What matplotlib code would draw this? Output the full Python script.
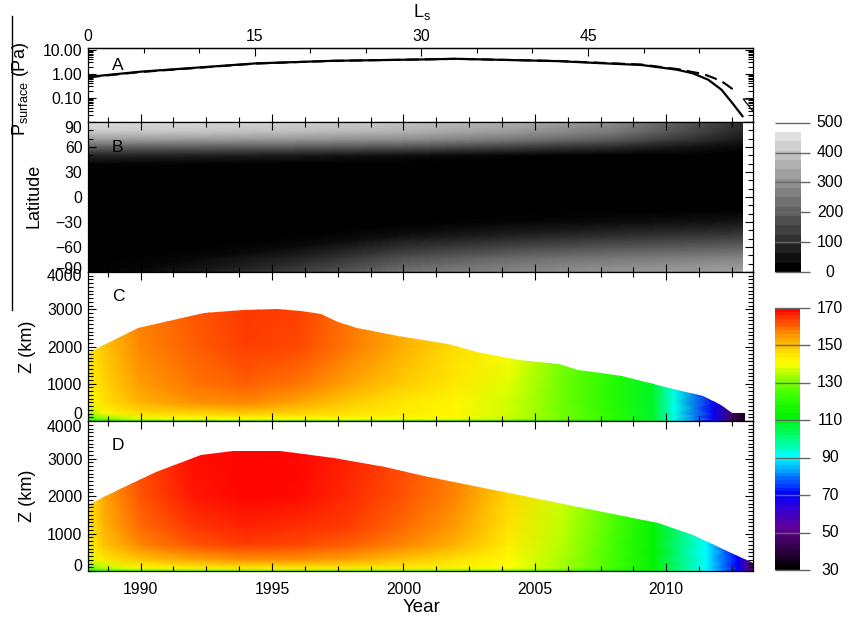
import numpy as np
import matplotlib
matplotlib.use('Agg')
import matplotlib.pyplot as plt
from matplotlib.colors import LinearSegmentedColormap, BoundaryNorm
from matplotlib.cm import ScalarMappable
from matplotlib.patches import Polygon
from matplotlib.lines import Line2D
from matplotlib.transforms import ScaledTranslation
from matplotlib.ticker import MultipleLocator, FixedLocator, LogLocator, FuncFormatter, NullFormatter

plt.rcParams['font.family'] = ['Liberation Sans', 'DejaVu Sans']
plt.rcParams['mathtext.fontset'] = 'custom'
plt.rcParams['mathtext.rm'] = 'Liberation Sans'
plt.rcParams['mathtext.it'] = 'Liberation Sans:italic'

# ---- A: surface pressure (Pa)
years_p1 = [1988.0, 1990.0, 1994.4, 1997.3, 2000.7, 2002.0, 2005.9, 2007.2,
            2009.07, 2010.4, 2011.0, 2011.6, 2012.1, 2012.5, 2012.9]
p_solid = [0.75, 1.24, 2.75, 3.5, 4.0, 4.25, 3.4, 2.9,
           2.35, 1.5, 1.07, 0.57, 0.22, 0.064, 0.0175]
years_p2 = [1988.0, 1990.0, 1994.4, 1997.3, 2000.7, 2002.0, 2005.9, 2007.2,
            2009.07, 2010.5, 2011.0, 2011.4, 2011.85, 2012.2, 2012.7]
p_dashed = [0.72, 1.2, 2.7, 3.5, 4.0, 4.25, 3.45, 3.0,
            2.45, 1.55, 1.2, 1.0, 0.65, 0.42, 0.17]
tri_years = [2013.3, 2012.93, 2013.3]
tri_p = [0.028, 0.09, 0.09]

# ---- B: surface frost vs latitude
years_b = [1988.0, 1992.0, 1996.0, 2000.0, 2004.0, 2008.0, 2011.0, 2012.9]
lats_b = [-90, -75, -60, -45, -30, -15, 0, 15, 30, 40, 50, 60, 70, 80, 90]
frost_b = [
    [0, 40, 120, 220, 260, 290, 305, 315],
    [0, 15, 70, 160, 210, 240, 255, 265],
    [0, 0, 20, 90, 130, 160, 175, 185],
    [0, 0, 0, 25, 55, 80, 95, 105],
    [0, 0, 0, 0, 10, 20, 30, 40],
    [0, 0, 0, 0, 0, 0, 0, 0],
    [0, 0, 0, 0, 0, 0, 0, 0],
    [0, 0, 0, 0, 0, 0, 0, 0],
    [0, 0, 0, 0, 0, 0, 0, 0],
    [10, 5, 0, 0, 0, 0, 0, 0],
    [70, 60, 45, 25, 8, 0, 0, 0],
    [180, 175, 170, 155, 120, 80, 35, 15],
    [310, 305, 295, 280, 240, 180, 100, 50],
    [400, 390, 375, 350, 305, 240, 140, 75],
    [430, 420, 405, 380, 340, 270, 160, 90],
]

# ---- C: temperature vs altitude
years_c = [1988.0, 1988.6, 1990.0, 1992.0, 1994.0, 1996.0, 1998.0, 2000.0, 2002.0,
           2004.0, 2006.0, 2008.0, 2009.5, 2010.3, 2011.8, 2012.5, 2013.1]
z_c = [0, 60, 200, 500, 1000, 2000, 3300]
temp_c = [
    [112, 112, 115, 118, 120, 120, 120, 118, 117, 115, 113, 110, 106, 92, 68, 45, 32],
    [125, 130, 138, 140, 140, 140, 140, 140, 139, 136, 130, 120, 108, 92, 68, 45, 32],
    [132, 142, 147, 148, 149, 148, 146, 144, 142, 137, 130, 120, 108, 92, 68, 45, 32],
    [140, 146, 152, 156, 157, 154, 149, 145, 142, 137, 129, 119, 108, 92, 68, 45, 32],
    [143, 148, 155, 159, 161, 159, 154, 149, 145, 138, 129, 119, 108, 92, 68, 45, 32],
    [144, 150, 157, 161, 164, 163, 158, 153, 147, 141, 131, 120, 108, 92, 68, 45, 32],
    [145, 151, 158, 162, 165, 164, 159, 154, 148, 142, 132, 121, 109, 92, 68, 45, 32],
]
years_ctop = [1988.0, 1989.9, 1992.4, 1993.9, 1995.2, 1996.1, 1996.85, 1997.5, 1998.25,
              1999.8, 2001.7, 2002.8, 2004.4, 2005.9, 2006.65, 2007.5, 2008.3, 2010.1,
              2011.4, 2012.1, 2012.5, 2013.0]
ztop_c = [1835, 2510, 2890, 2990, 3010, 2960, 2870, 2650, 2510,
          2285, 2060, 1860, 1650, 1535, 1380, 1290, 1200, 885,
          660, 435, 210, 210]

# ---- D: temperature vs altitude, second case
years_d = [1988.0, 1988.6, 1990.0, 1992.0, 1994.0, 1996.0, 1998.0, 2000.0, 2002.0,
           2004.0, 2006.0, 2008.0, 2009.5, 2011.5, 2012.7, 2013.15, 2013.4]
z_d = [0, 80, 300, 700, 1200, 2000, 3300]
temp_d = [
    [110, 115, 120, 125, 128, 128, 127, 126, 124, 121, 117, 113, 110, 90, 70, 50, 40],
    [128, 135, 142, 144, 145, 145, 145, 144, 143, 140, 134, 124, 113, 90, 70, 50, 40],
    [138, 145, 150, 154, 156, 156, 154, 150, 146, 141, 134, 124, 113, 90, 70, 50, 40],
    [142, 150, 157, 162, 164, 163, 161, 157, 152, 144, 135, 124, 113, 90, 70, 50, 40],
    [144, 152, 160, 165, 167, 166, 164, 160, 155, 146, 136, 125, 113, 91, 70, 50, 40],
    [145, 154, 162, 168, 170, 169, 166, 162, 157, 148, 137, 125, 113, 91, 70, 50, 40],
    [146, 155, 163, 169, 170, 170, 167, 163, 158, 149, 138, 126, 114, 92, 70, 50, 40],
]
years_dtop = [1988.0, 1989.2, 1990.6, 1992.3, 1993.5, 1995.3, 1997.35, 1999.3,
              2000.8, 2004.6, 2007.2, 2009.7, 2011.0, 2012.3, 2013.3]
ztop_d = [1770, 2180, 2630, 3100, 3200, 3210, 3015, 2770,
          2540, 2000, 1635, 1270, 955, 545, 225]

# rainbow table for temperature (K)
t_nodes = [30, 42, 52, 62, 70, 80, 90, 100, 112, 122, 130, 136, 140, 146, 150, 155, 160, 165, 170]
t_colors = [(0, 0, 0), (0.22, 0, 0.32), (0.38, 0, 0.6), (0.2, 0, 0.85), (0, 0, 1),
            (0, 0.5, 1), (0, 1, 1), (0, 1, 0.5), (0, 0.95, 0), (0.2, 1, 0),
            (0.45, 1, 0), (0.75, 1, 0), (1, 1, 0), (1, 0.9, 0), (1, 0.78, 0),
            (1, 0.62, 0), (1, 0.42, 0), (1, 0.22, 0), (1, 0.02, 0)]
cmap_t = LinearSegmentedColormap.from_list(
    'temp', [((t - 30) / 140.0, c) for t, c in zip(t_nodes, t_colors)])

XLIM = (1988.0, 2013.3)
FS = 11.3


def yr2ls(y):
    return (np.asarray(y) - 1988.0) * 15.0 / 6.34


def ls2yr(l):
    return np.asarray(l) * 6.34 / 15.0 + 1988.0


def style(ax, top=True):
    ax.set_xlim(*XLIM)
    ax.xaxis.set_major_locator(MultipleLocator(5))
    ax.xaxis.set_minor_locator(MultipleLocator(1.25))
    ax.tick_params(which='both', direction='in', top=top, right=True,
                   labelsize=FS, width=0.8, pad=4, labelbottom=False)
    ax.tick_params(which='major', length=6)
    ax.tick_params(which='minor', length=3.5)
    for s in ax.spines.values():
        s.set_linewidth(0.9)


def temperature_field(ax, yrs, z, temp, yrs_top, ztop):
    X, Y = np.meshgrid(yrs, z)
    mesh = ax.pcolormesh(X, Y, np.array(temp, float), shading='gouraud',
                         cmap=cmap_t, vmin=30, vmax=170)
    verts = [(yrs_top[0], -100)] + list(zip(yrs_top, ztop)) + [(yrs_top[-1], -100)]
    poly = Polygon(verts, closed=True, transform=ax.transData,
                   facecolor='none', edgecolor='none')
    ax.add_patch(poly)
    mesh.set_clip_path(poly)
    return mesh


def nudge(label, dy):
    # shift a tick label vertically by dy points
    label.set_transform(label.get_transform() + ScaledTranslation(0, dy / 72.0, fig.dpi_scale_trans))


fig = plt.figure(figsize=(8.48, 6.24), dpi=100)
L, W = 0.1038, 0.7842
axA = fig.add_axes([L, 0.8045, W, 0.1186])
axB = fig.add_axes([L, 0.5641, W, 0.2404])
axC = fig.add_axes([L, 0.3253, W, 0.2388])
axD = fig.add_axes([L, 0.0849, W, 0.2404])

# A
axA.plot(years_p1, p_solid, color='k', lw=1.6)
axA.plot(years_p2, p_dashed, color='k', lw=1.5, linestyle=(0, (6, 3)))
axA.plot(tri_years, tri_p, color='k', lw=0.9)
axA.set_yscale('log')
axA.set_ylim(0.01, 12)
style(axA, top=False)
axA.yaxis.set_major_locator(FixedLocator([0.01, 0.1, 1, 10]))
axA.yaxis.set_major_formatter(FuncFormatter(lambda v, p: '' if v < 0.05 else '%.2f' % v))
axA.yaxis.set_minor_locator(LogLocator(base=10, subs=np.arange(2, 10), numticks=20))
axA.yaxis.set_minor_formatter(NullFormatter())
sec = axA.secondary_xaxis('top', functions=(yr2ls, ls2yr))
sec.set_xticks([0, 15, 30, 45])
sec.xaxis.set_minor_locator(MultipleLocator(5))
sec.tick_params(which='both', direction='in', labelsize=FS, width=0.8, pad=3)
sec.tick_params(which='major', length=6)
sec.tick_params(which='minor', length=3.5)
sec.spines['top'].set_linewidth(0.9)
axA.text(0.0356, 0.757, 'A', transform=axA.transAxes, fontsize=12.5, va='center')

# B
axB.contourf(years_b, lats_b, frost_b, levels=np.linspace(0, 500, 101),
             cmap='gray', vmin=0, vmax=500)
axB.set_ylim(-90, 90)
style(axB)
axB.yaxis.set_major_locator(FixedLocator([-90, -60, -30, 0, 30, 60, 90]))
axB.yaxis.set_minor_locator(MultipleLocator(10))
axB.text(0.0356, 0.831, 'B', transform=axB.transAxes, fontsize=12.5, va='center')

# C and D
temperature_field(axC, years_c, z_c, temp_c, years_ctop, ztop_c)
temperature_field(axD, years_d, z_d, temp_d, years_dtop, ztop_d)
for ax, letter in ((axC, 'C'), (axD, 'D')):
    ax.set_ylim(0, 4000)
    style(ax)
    ax.yaxis.set_major_locator(FixedLocator([0, 1000, 2000, 3000, 4000]))
    ax.yaxis.set_minor_locator(MultipleLocator(100))
    ax.text(0.0356, 0.834, letter, transform=ax.transAxes, fontsize=12.5, va='center')
axD.tick_params(axis='x', labelbottom=True, pad=8)

# edge labels sit slightly inside the panels
fig.canvas.draw()
nudge(axB.yaxis.get_major_ticks()[-1].label1, -3.5)
nudge(axB.yaxis.get_major_ticks()[0].label1, 3)
nudge(axC.yaxis.get_major_ticks()[-1].label1, -2.5)
nudge(axC.yaxis.get_major_ticks()[0].label1, 5.5)
nudge(axD.yaxis.get_major_ticks()[-1].label1, -3.5)
nudge(axD.yaxis.get_major_ticks()[0].label1, 4.5)

# colour bars
cax1 = fig.add_axes([0.9139, 0.5641, 0.0295, 0.2393])
bands = (np.arange(15) / 16.0)[:, None]
cax1.imshow(bands, cmap='gray', vmin=0, vmax=1, origin='lower',
            extent=(0, 1, 0, 468.75), aspect='auto', interpolation='nearest')
cax1.set_xlim(0, 1)
cax1.set_ylim(0, 500)
cax1.axis('off')
cb1_ticks = [0, 100, 200, 300, 400, 500]

cax2 = fig.add_axes([0.9139, 0.0865, 0.0295, 0.4199])
t_levels = np.arange(30, 171, 2)
cb2 = fig.colorbar(ScalarMappable(norm=BoundaryNorm(t_levels, 256), cmap=cmap_t), cax=cax2)
cb2.outline.set_visible(False)
cax2.set_ylim(30, 170)
cax2.axis('off')
cb2_ticks = [30, 50, 70, 90, 110, 130, 150, 170]

for cax, ticks in ((cax1, cb1_ticks), (cax2, cb2_ticks)):
    tr = cax.get_yaxis_transform()
    cax.hlines(ticks, 0, 1.4, colors='0.4', lw=1, transform=tr, clip_on=False)
    for t in ticks:
        cax.text(2.2, t, str(t), transform=tr, ha='center', va='center', fontsize=FS)

# labels
fig.text(0.4976, 0.981, r'L$_{\mathrm{s}}$', ha='center', va='center', fontsize=13)
fig.text(0.024, 0.858, r'P$_{\mathrm{surface}}$ (Pa)', rotation=90,
         ha='center', va='center', fontsize=13)
fig.text(0.040, 0.686, 'Latitude', rotation=90, ha='center', va='center', fontsize=13)
fig.text(0.0325, 0.444, 'Z (km)', rotation=90, ha='center', va='center', fontsize=13)
fig.text(0.0325, 0.205, 'Z (km)', rotation=90, ha='center', va='center', fontsize=13)
fig.text(0.4976, 0.027, 'Year', ha='center', va='center', fontsize=13.5)
fig.add_artist(Line2D([0.0147, 0.0147], [0.975, 0.503], color='k', lw=1))

fig.savefig('out.png', dpi=100)
